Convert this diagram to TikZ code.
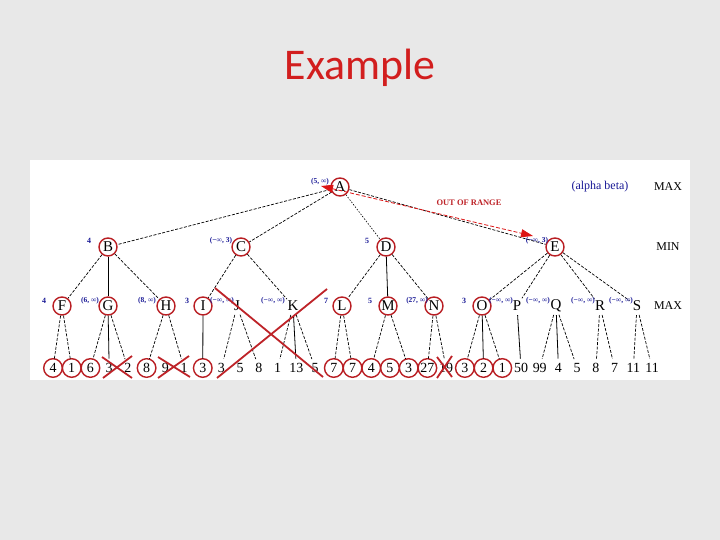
\documentclass[tikz,border=0pt]{standalone}
\usepackage{fontspec}
\setmainfont{Liberation Serif}
\newfontfamily\titlefont{Carlito}
\usetikzlibrary{arrows.meta}
\definecolor{bg}{RGB}{232,232,232}
\definecolor{ttl}{RGB}{210,30,30}
\definecolor{ring}{RGB}{185,30,35}
\definecolor{lbl}{RGB}{25,25,150}
\definecolor{xred}{RGB}{190,35,40}
\definecolor{arr}{RGB}{220,20,20}
\begin{document}
\begin{tikzpicture}[x=1bp,y=-1bp,
  tn/.style={circle,inner sep=0pt,minimum size=18bp,font=\fontsize{15}{15}\selectfont},
  lf/.style={circle,inner sep=0pt,minimum size=18.5bp,font=\fontsize{14}{14}\selectfont},
  rc/.style={draw=ring,line width=1.4bp},
  ab/.style={font=\fontsize{7.5}{7.5}\selectfont\bfseries,text=lbl,inner sep=0pt},
  ad/.style={font=\fontsize{8}{8}\selectfont\bfseries,text=lbl,inner sep=0pt},
  lv/.style={font=\fontsize{12}{12}\selectfont,inner sep=0pt},
  ed/.style={line width=0.7bp,dash pattern=on 3bp off 1.5bp},
  ev/.style={line width=0.8bp},
  xx/.style={draw=xred,line width=1.8bp}]
\useasboundingbox (0,0) rectangle (720,540);
\fill[bg] (0,0) rectangle (720,540);
\fill[white] (30,160) rectangle (690,380);
\node[font=\titlefont\fontsize{44}{50}\selectfont,text=ttl] (title) at (360,68) {Example};

% internal nodes
\node[tn,rc] (A) at (340,187) {A};
\node[tn,rc] (B) at (108,247) {B};
\node[tn,rc] (C) at (241,247) {C};
\node[tn,rc] (D) at (386,247) {D};
\node[tn,rc] (E) at (555,247) {E};
\node[tn,rc] (F) at (62,306) {F};
\node[tn,rc] (G) at (108,306) {G};
\node[tn,rc] (H) at (166,306) {H};
\node[tn,rc] (I) at (203,306) {I};
\node[tn] (J) at (237,306) {J};
\node[tn] (K) at (293,306) {K};
\node[tn,rc] (L) at (342,306) {L};
\node[tn,rc] (M) at (388,306) {M};
\node[tn,rc] (N) at (434,306) {N};
\node[tn,rc] (O) at (482,306) {O};
\node[tn] (P) at (517,306) {P};
\node[tn] (Q) at (556,306) {Q};
\node[tn] (R) at (600,306) {R};
\node[tn] (S) at (637,306) {S};

% leaves
\foreach \v [count=\i from 0] in {4,1,6,3,2,8,9,1,3,3,5,8,1,13,5,7,7,4,5,3,27,19,3,2,1,50,99,4,5,8,7,11,11}
  \node[lf] (l\i) at ({53+18.72*\i},368) {\v};
\foreach \i in {0,1,2,5,8,15,16,17,18,19,20,22,23,24}
  \draw[rc] (l\i.center) circle[radius=9.3];

% edges level 0-1
\draw[ed] (A) -- (B);
\draw[ed] (A) -- (C);
\draw[line width=0.6bp,dash pattern=on 1.5bp off 1.5bp] (A) -- (D);
\draw[ed] (A) -- (E);
% level 1-2
\draw[ed] (B) -- (F); \draw[ev] (B) -- (G); \draw[ed] (B) -- (H);
\draw[ed] (C) -- (I); \draw[ed] (C) -- (K);
\draw[ed] (D) -- (L); \draw[ev] (D) -- (M); \draw[ed] (D) -- (N);
\draw[ed] (E) -- (O); \draw[ed] (E) -- (P); \draw[ed] (E) -- (R); \draw[ed] (E) -- (S);
% level 2-3
\draw[ed] (F) -- (l0); \draw[ed] (F) -- (l1);
\draw[ed] (G) -- (l2); \draw[ev] (G) -- (l3); \draw[ed] (G) -- (l4);
\draw[ed] (H) -- (l5); \draw[ed] (H) -- (l7);
\draw[ev] (I) -- (l8);
\draw[ed] (J) -- (l9); \draw[ed] (J) -- (l11);
\draw[ed] (K) -- (l12); \draw[ev] (K) -- (l13); \draw[ed] (K) -- (l14);
\draw[ed] (L) -- (l15); \draw[ed] (L) -- (l16);
\draw[ed] (M) -- (l17); \draw[ed] (M) -- (l19);
\draw[ed] (N) -- (l20); \draw[ed] (N) -- (l21);
\draw[ed] (O) -- (l22); \draw[ev] (O) -- (l23); \draw[ed] (O) -- (l24);
\draw[ev] (P) -- (l25);
\draw[ed] (Q) -- (l26); \draw[ev] (Q) -- (l27); \draw[ed] (Q) -- (l28);
\draw[ed] (R) -- (l29); \draw[ed] (R) -- (l30);
\draw[ed] (S) -- (l31); \draw[ed] (S) -- (l32);

% alpha-beta labels
\node[ab] (aA) at (320,182) {(5, ∞)};
\node[ad] (aB) at (89,241) {4};
\node[ab] (aC) at (221,241) {(−∞, 3)};
\node[ad] (aD) at (367,241) {5};
\node[ab] (aE) at (537,241) {(−∞, 3)};
\node[ad] (aF) at (44,301) {4};
\node[ab] (aG) at (90,301) {(6, ∞)};
\node[ab] (aH) at (147,301) {(8, ∞)};
\node[ad] (aI) at (187,301) {3};
\node[ab] (aJ) at (222,301) {(−∞, ∞)};
\node[ab] (aK) at (273,301) {(−∞, ∞)};
\node[ad] (aL) at (326,301) {7};
\node[ad] (aM) at (370,301) {5};
\node[ab] (aN) at (417,301) {(27, ∞)};
\node[ad] (aO) at (464,301) {3};
\node[ab] (aP) at (501,301) {(−∞, ∞)};
\node[ab] (aQ) at (538,301) {(−∞, ∞)};
\node[ab] (aR) at (583,301) {(−∞, ∞)};
\node[ab] (aS) at (621,301) {(−∞, ∞)};

% level names
\node[lv] (max0) at (668,187) {MAX};
\node[lv] (min1) at (668,247) {MIN};
\node[lv] (max2) at (668,306) {MAX};
\node[lv,text=lbl] (abk) at (600,187) {(alpha beta)};

% out of range arrow
\coordinate (oa) at (321,186);
\coordinate (ob) at (533,236);
\draw[arr,line width=0.8bp,dash pattern=on 4bp off 2bp,
  {Triangle[length=12bp,width=8bp]}-{Triangle[length=12bp,width=8bp]}] (oa) -- (ob);
\node[font=\fontsize{8.5}{9}\selectfont\bfseries,text=xred] (oor) at (469,203) {OUT OF RANGE};

% crosses
\draw[xx] (215,288) -- (323,377);
\draw[xx] (327,289) -- (217,378);
\draw[xx] (102,357) -- (132,378);
\draw[xx] (132,356) -- (103,378);
\draw[xx] (158,357) -- (190,377);
\draw[xx] (189,356) -- (158,378);
\draw[xx] (437,357) -- (452,377);
\draw[xx] (452,356) -- (437,378);
\end{tikzpicture}
\end{document}
